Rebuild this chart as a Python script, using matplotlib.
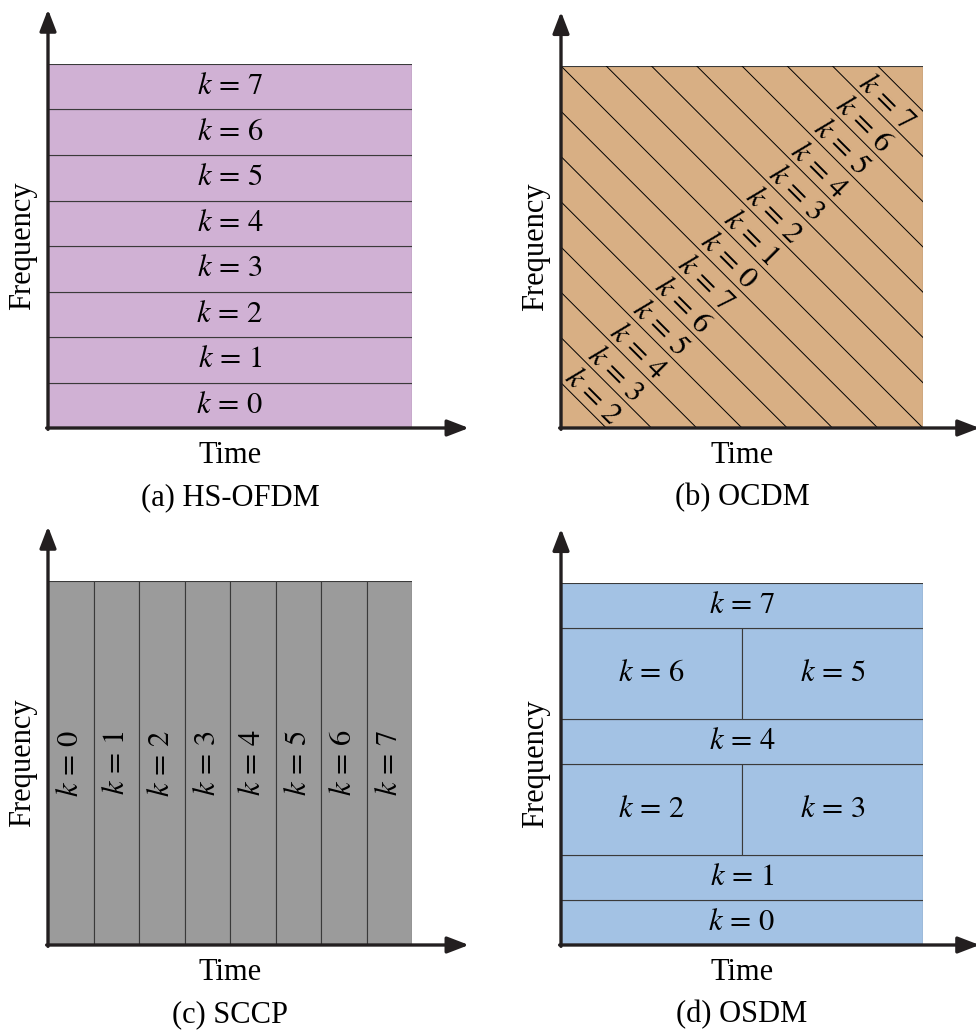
import matplotlib
matplotlib.use("Agg")
import matplotlib.pyplot as plt
from matplotlib.patches import Rectangle

plt.rcParams["font.family"] = ["Liberation Serif", "DejaVu Serif"]
plt.rcParams["mathtext.fontset"] = "stix"

# panel data
hs_ofdm_k = [0, 1, 2, 3, 4, 5, 6, 7]            # rows, bottom to top
ocdm_k = [2, 3, 4, 5, 6, 7, 0, 1, 2, 3, 4, 5, 6, 7]  # diagonal strips, bottom-left to top-right
ocdm_lines = list(range(1, 16))                  # u + v = c
sccp_k = [0, 1, 2, 3, 4, 5, 6, 7]               # columns, left to right
osdm_rows = [[0], [1], [2, 3], [4], [6, 5], [7]]  # bottom to top
osdm_heights = [1, 1, 2, 1, 2, 1]
captions = ["(a) HS-OFDM", "(b) OCDM", "(c) SCCP", "(d) OSDM"]
fills = ["#D0B1D4", "#D8AF84", "#9B9B9B", "#A3C2E4"]

W, H = 976, 1030
FS = 22
EDGE = "#3A3A3A"
AXC = "#231F20"


def make_ax(fig, x0, y0, size):
    # x0, y0 = pixel of origin (top-left based y), size in pixels
    ax = fig.add_axes([x0 / W, 1 - y0 / H, size / W, size / H])
    ax.set_xlim(0, 8)
    ax.set_ylim(0, 8)
    ax.axis("off")
    return ax


def draw_axes(ax, caption):
    ax.annotate("", xy=(0, 9.2), xytext=(0, -0.03),
                arrowprops=dict(arrowstyle="-|>,head_length=1.3,head_width=0.5",
                                lw=2.4, color=AXC, shrinkA=0, shrinkB=0,
                                mutation_scale=10), annotation_clip=False)
    ax.annotate("", xy=(9.25, 0), xytext=(-0.03, 0),
                arrowprops=dict(arrowstyle="-|>,head_length=1.3,head_width=0.5",
                                lw=2.4, color=AXC, shrinkA=0, shrinkB=0,
                                mutation_scale=10), annotation_clip=False)
    ax.text(4, -0.6, "Time", ha="center", va="center", fontsize=FS)
    ax.text(-0.57, 4, "Frequency", ha="center", va="center", rotation=90, fontsize=FS)
    ax.text(4, -1.53, caption, ha="center", va="center", fontsize=FS)


def klabel(k):
    return "$k\\,=\\,%d$" % k


fig = plt.figure(figsize=(W / 100, H / 100), dpi=100)

# (a) HS-OFDM
ax = make_ax(fig, 48, 428, 364)
for i, k in enumerate(hs_ofdm_k):
    ax.add_patch(Rectangle((0, i), 8, 1, facecolor=fills[0], edgecolor=EDGE, lw=0.8))
    ax.text(4, i + 0.5, klabel(k), ha="center", va="center", fontsize=FS)
draw_axes(ax, captions[0])

# (b) OCDM
ax = make_ax(fig, 561, 428, 362)
ax.add_patch(Rectangle((0, 0), 8, 8, facecolor=fills[1], edgecolor=EDGE, lw=0.8))
for c in ocdm_lines:
    if c <= 8:
        ax.plot([0, c], [c, 0], color="black", lw=0.7)
    else:
        ax.plot([c - 8, 8], [8, c - 8], color="black", lw=0.7)
for i, k in enumerate(ocdm_k):
    s = (i + 1.5) / 2 - 0.06
    ax.text(s, s, klabel(k), ha="center", va="center", rotation=-45,
            rotation_mode="anchor", fontsize=FS)
draw_axes(ax, captions[1])

# (c) SCCP
ax = make_ax(fig, 48, 945, 364)
for i, k in enumerate(sccp_k):
    ax.add_patch(Rectangle((i, 0), 1, 8, facecolor=fills[2], edgecolor=EDGE, lw=0.8))
    ax.text(i + 0.5, 4, klabel(k), ha="center", va="center", rotation=90, fontsize=FS)
draw_axes(ax, captions[2])

# (d) OSDM
ax = make_ax(fig, 561, 945, 362)
y = 0
for ks, h in zip(osdm_rows, osdm_heights):
    w = 8 / len(ks)
    for j, k in enumerate(ks):
        ax.add_patch(Rectangle((j * w, y), w, h, facecolor=fills[3], edgecolor=EDGE, lw=0.8))
        ax.text(j * w + w / 2, y + h / 2, klabel(k), ha="center", va="center", fontsize=FS)
    y += h
draw_axes(ax, captions[3])

fig.savefig("out.png", dpi=100)
